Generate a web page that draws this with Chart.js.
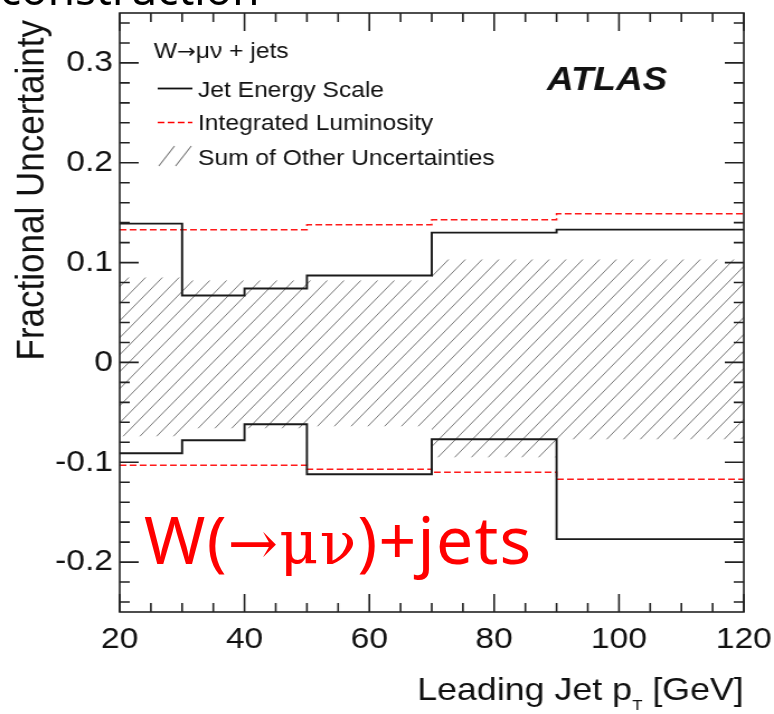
<!DOCTYPE html>
<html>
<head>
<meta charset="utf-8">
<script src="https://cdn.jsdelivr.net/npm/chart.js"></script>
<style>
  html, body { margin: 0; padding: 0; background: #fff; overflow: hidden; }
  #wrap { position: relative; width: 774px; height: 714px; overflow: hidden; background: #fff; }
  /* la figura original está estirada en horizontal */
  #chart { position: absolute; left: 0; top: 0; transform: scaleX(1.1185); transform-origin: 0 0; }
  .slide { position: absolute; white-space: nowrap; font-family: 'Noto Sans', sans-serif; line-height: 1; }
  #titulo { left: 0; top: -34px; font-size: 44px; color: #000; }
  #canal { left: 144px; top: 505px; font-size: 66px; color: #f00; letter-spacing: 1.3px; }
  #canal .sim { font-family: 'DejaVu Serif', serif; font-size: 60px; }
</style>
</head>
<body>
<div id="wrap">
  <canvas id="chart" width="692" height="714"></canvas>
  <div class="slide" id="titulo">construction</div>
  <div class="slide" id="canal">W(<span class="sim">→μν</span>)+jets</div>
</div>
<script>
// datos (incertidumbre fraccional por bin de pT del jet líder)
const binEdges = [20, 30, 40, 50, 70, 90, 120];
const jesUp = [0.139, 0.067, 0.074, 0.087, 0.130, 0.133];
const jesDown = [-0.091, -0.078, -0.062, -0.112, -0.077, -0.177];
const lumiUp = [0.133, 0.133, 0.133, 0.138, 0.143, 0.149];
const lumiDown = [-0.103, -0.103, -0.103, -0.107, -0.110, -0.117];
const otherUp = [0.085, 0.082, 0.082, 0.082, 0.103, 0.103];
const otherDown = [-0.074, -0.066, -0.066, -0.064, -0.095, -0.077];
const xTicks = [20, 40, 60, 80, 100, 120];
const yTicks = [-0.2, -0.1, 0, 0.1, 0.2, 0.3];

const FONT = "'Liberation Sans', Arial, sans-serif";

// histograma escalonado: dos puntos por bin
function steps(vals) {
  const pts = [];
  vals.forEach((v, i) => {
    pts.push({ x: binEdges[i], y: v });
    pts.push({ x: binEdges[i + 1], y: v });
  });
  return pts;
}

const canvas = document.getElementById('chart');
const ctx = canvas.getContext('2d');

// trama diagonal para "Sum of Other Uncertainties"
function crearTrama() {
  const w = 15, h = 17;
  const c = document.createElement('canvas');
  c.width = w; c.height = h;
  const g = c.getContext('2d');
  g.strokeStyle = '#777';
  g.lineWidth = 1;
  g.beginPath();
  g.moveTo(0, h); g.lineTo(w, 0);
  g.moveTo(-w, h); g.lineTo(0, 0);
  g.moveTo(w, h); g.lineTo(2 * w, 0);
  g.stroke();
  return ctx.createPattern(c, 'repeat');
}
const trama = crearTrama();

// texto con partes en distinta fuente
function textoMixto(ctx, partes, x, y) {
  partes.forEach(([t, f]) => {
    ctx.font = f;
    ctx.fillText(t, x, y);
    x += ctx.measureText(t).width;
  });
}

const marco = {
  id: 'marco',
  afterDatasetsDraw(chart) {
    const { ctx, chartArea: a, scales: { x, y } } = chart;
    ctx.save();
    ctx.strokeStyle = '#222';
    ctx.lineWidth = 1.6;
    ctx.strokeRect(a.left, a.top, a.right - a.left, a.bottom - a.top);
    ctx.beginPath();
    for (let v = 20; v <= 120; v += 5) {
      const px = x.getPixelForValue(v);
      const len = v % 20 === 0 ? 18 : 9;
      ctx.moveTo(px, a.bottom); ctx.lineTo(px, a.bottom - len);
      ctx.moveTo(px, a.top); ctx.lineTo(px, a.top + len);
    }
    for (let i = -12; i <= 17; i++) {
      const py = y.getPixelForValue(i * 0.02);
      const len = i % 5 === 0 ? 17 : 9;
      ctx.moveTo(a.left, py); ctx.lineTo(a.left + len, py);
      ctx.moveTo(a.right, py); ctx.lineTo(a.right - len, py);
    }
    ctx.stroke();
    ctx.restore();
  },
  afterDraw(chart) {
    const { ctx, chartArea: a } = chart;
    ctx.save();
    ctx.fillStyle = '#111';
    // leyenda
    ctx.textBaseline = 'alphabetic';
    ctx.textAlign = 'left';
    textoMixto(ctx, [['W', '22px ' + FONT], ['\u2192', "20px 'DejaVu Sans'"],
                     ['\u03bc\u03bd + jets', '22px ' + FONT]], 137.5, 58);
    ctx.font = '22px ' + FONT;
    ctx.fillText('Jet Energy Scale', 177, 96.5);
    ctx.fillText('Integrated Luminosity', 177, 130);
    ctx.fillText('Sum of Other Uncertainties', 177, 164.5);
    ctx.strokeStyle = '#111';
    ctx.lineWidth = 1.8;
    ctx.beginPath(); ctx.moveTo(141, 88.5); ctx.lineTo(172, 88.5); ctx.stroke();
    ctx.strokeStyle = '#f00';
    ctx.lineWidth = 1.5;
    ctx.setLineDash([6, 3]);
    ctx.beginPath(); ctx.moveTo(141, 122.5); ctx.lineTo(172, 122.5); ctx.stroke();
    ctx.setLineDash([]);
    ctx.strokeStyle = '#777';
    ctx.lineWidth = 1.1;
    ctx.beginPath();
    ctx.moveTo(142, 166); ctx.lineTo(156, 146);
    ctx.moveTo(157, 166); ctx.lineTo(171, 146);
    ctx.stroke();
    // ATLAS
    ctx.font = 'italic bold 33px ' + FONT;
    ctx.fillText('ATLAS', 489, 89.5);
    // título eje x con subíndice
    const xt1 = 'Leading Jet p', xt2 = 'T', xt3 = ' [GeV]';
    ctx.font = '32px ' + FONT;
    const w1 = ctx.measureText(xt1).width, w3 = ctx.measureText(xt3).width;
    ctx.font = '15px ' + FONT;
    const w2 = ctx.measureText(xt2).width;
    let xs = a.right - (w1 + w2 + w3);
    ctx.font = '32px ' + FONT;
    ctx.fillText(xt1, xs, 700);
    ctx.fillText(xt3, xs + w1 + w2, 700);
    ctx.font = '15px ' + FONT;
    ctx.fillText(xt2, xs + w1, 710);
    // título eje y
    ctx.translate(38.5, 20);
    ctx.rotate(-Math.PI / 2);
    ctx.textAlign = 'right';
    ctx.font = '35px ' + FONT;
    ctx.fillText('Fractional Uncertainty', 0, 0);
    ctx.restore();
  }
};

const linea = (data, color, dash, width) => ({
  data, borderColor: color, borderWidth: width, borderDash: dash,
  pointRadius: 0, tension: 0, fill: false
});

new Chart(ctx, {
  type: 'line',
  data: {
    datasets: [
      linea(steps(jesUp), '#1a1a1a', [], 1.9),
      linea(steps(jesDown), '#1a1a1a', [], 1.9),
      linea(steps(lumiUp), '#ff1a1a', [6, 3], 1.5),
      linea(steps(lumiDown), '#ff1a1a', [6, 3], 1.5),
      { data: steps(otherDown), borderWidth: 0, pointRadius: 0, fill: false },
      { data: steps(otherUp), borderWidth: 0, pointRadius: 0, fill: '-1', backgroundColor: trama }
    ]
  },
  options: {
    responsive: false,
    devicePixelRatio: 1,
    animation: false,
    layout: { padding: { top: 13, right: 27, left: 0, bottom: 0 } },
    plugins: { legend: { display: false }, tooltip: { enabled: false } },
    scales: {
      x: {
        type: 'linear', min: 20, max: 120,
        grid: { display: false, drawTicks: false },
        border: { display: false },
        afterBuildTicks: s => { s.ticks = xTicks.map(v => ({ value: v })); },
        afterFit: s => { s.height = 102; s.paddingLeft = 0; s.paddingRight = 0; },
        ticks: { font: { family: FONT, size: 30 }, color: '#111', padding: 10, maxRotation: 0,
                 callback: v => String(v) }
      },
      y: {
        type: 'linear', min: -0.25, max: 0.35,
        grid: { display: false, drawTicks: false },
        border: { display: false },
        afterBuildTicks: s => { s.ticks = yTicks.map(v => ({ value: v })); },
        afterFit: s => { s.width = 107; s.paddingTop = 0; s.paddingBottom = 0; },
        ticks: { font: { family: FONT, size: 30 }, color: '#111', padding: 6,
                 callback: v => String(Math.round(v * 10) / 10) }
      }
    }
  },
  plugins: [marco]
});
</script>
</body>
</html>
